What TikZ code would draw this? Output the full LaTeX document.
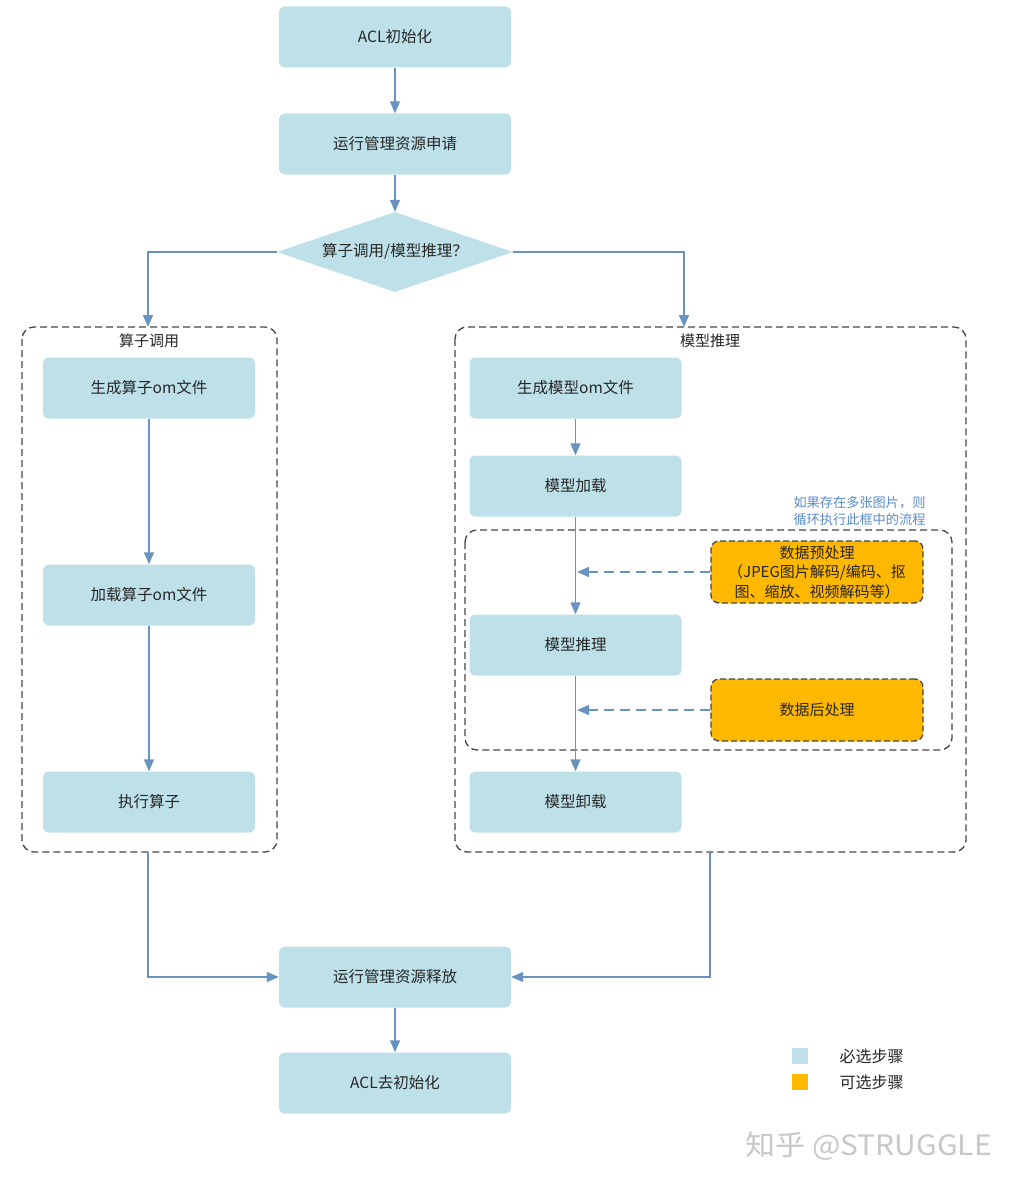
\documentclass[tikz,border=0pt]{standalone}
\usepackage{fontspec}
\setmainfont{Noto Sans CJK SC}
\newfontfamily\cjk{Noto Sans CJK SC}
\usetikzlibrary{arrows.meta,shapes.geometric}
\definecolor{boxblue}{RGB}{190,225,233}
\definecolor{optorange}{RGB}{255,184,0}
\definecolor{arrowblue}{RGB}{104,146,194}
\definecolor{framegray}{RGB}{70,70,70}
\definecolor{notecol}{RGB}{90,140,205}
\tikzset{
  stepbox/.style={fill=boxblue, rounded corners=6pt, minimum width=232pt, minimum height=61pt, inner sep=0pt, font=\cjk\fontsize{15.5}{18}\selectfont, text=black!85},
  smallbox/.style={stepbox, minimum width=212pt},
  optbox/.style={fill=optorange, draw=framegray, line width=1.3pt, dash pattern=on 6pt off 3pt, rounded corners=8pt, minimum width=212pt, minimum height=62pt, inner sep=0pt, align=center, font=\cjk\fontsize{15}{19.5}\selectfont, text=black!85},
  flow/.style={draw=arrowblue, line width=1.4pt, -{Triangle[width=10pt,length=12pt]}},
  flowdash/.style={flow, dash pattern=on 10pt off 6pt},
  group/.style={draw=framegray, line width=1.3pt, dash pattern=on 7pt off 4pt, rounded corners=12pt},
  grouptitle/.style={font=\cjk\fontsize{15}{18}\selectfont, text=black!85},
}
\begin{document}
\begin{tikzpicture}[x=1pt,y=-1pt]
\useasboundingbox (0,0) rectangle (1017,1188);
\fill[white] (0,0) rectangle (1017,1188);

% top nodes
\node[stepbox] (init) at (395,37) {ACL初始化};
\node[stepbox] (alloc) at (395,144) {运行管理资源申请};
\node[diamond, aspect=2.95, fill=boxblue, inner sep=0pt, minimum width=236pt, minimum height=80pt] (dec) at (395,252) {};
\node[font=\cjk\fontsize{15.5}{18}\selectfont, text=black!85] (dectxt) at (395,251) {算子调用/模型推理？};

% groups
\draw[group] (22,327) rectangle (277,852);
\node[grouptitle] (ltitle) at (149,341) {算子调用};
\draw[group] (455,327) rectangle (966,852);
\node[grouptitle] (rtitle) at (710,341) {模型推理};
\coordinate (lgtop) at (148,327);
\coordinate (rgtop) at (684,327);
\coordinate (lgbot) at (148,852);
\coordinate (rgbot) at (710,852);

% left column
\node[smallbox] (genop) at (149,388) {生成算子om文件};
\node[smallbox] (loadop) at (149,595) {加载算子om文件};
\node[smallbox] (runop) at (149,802) {执行算子};

% right column
\node[smallbox] (genmod) at (575.5,388) {生成模型om文件};
\node[smallbox] (loadmod) at (575.5,486) {模型加载};
\node[smallbox] (infer) at (575.5,645) {模型推理};
\node[smallbox] (unload) at (575.5,802) {模型卸载};

% inner loop group
\draw[group] (465,530) rectangle (952,750);
\node[font=\cjk\fontsize{13.2}{17}\selectfont, text=notecol, align=left, anchor=north west] (note) at (790,493) {如果存在多张图片，则\\循环执行此框中的流程};

% optional boxes
\node[optbox] (pre) at (817,572) {数据预处理\\（JPEG图片解码/编码、抠\\图、缩放、视频解码等）};
\node[optbox] (post) at (817,710) {数据后处理};
\coordinate (prejoin) at (577,572);
\coordinate (postjoin) at (577,710);

% bottom nodes
\node[stepbox] (release) at (395,977) {运行管理资源释放};
\node[stepbox] (deinit) at (395,1083) {ACL去初始化};

% connectors
\draw[flow] (init) -- (alloc);
\draw[flow] (alloc) -- (dec);
\draw[flow] (dec.west) -| (lgtop);
\draw[flow] (dec.east) -| (rgtop);
\draw[flow] (genop) -- (loadop);
\draw[flow] (loadop) -- (runop);
\draw[flow] (genmod) -- (loadmod);
\draw[flow] (loadmod) -- (infer);
\draw[flow] (infer) -- (unload);
\draw[flowdash] (pre.west) -- (prejoin);
\draw[flowdash] (post.west) -- (postjoin);
\draw[flow] (lgbot) |- (release.west);
\draw[flow] (rgbot) |- (release.east);
\draw[flow] (release) -- (deinit);

% legend
\node[fill=boxblue, minimum size=16pt, inner sep=0pt] (legA) at (800,1056) {};
\node[fill=optorange, minimum size=16pt, inner sep=0pt] (legB) at (800,1082) {};
\node[anchor=west, font=\cjk\fontsize{16}{18}\selectfont, text=black!85] (legAt) at (836,1056) {必选步骤};
\node[anchor=west, font=\cjk\fontsize{16}{18}\selectfont, text=black!85] (legBt) at (836,1082) {可选步骤};

% watermark
\node[anchor=west, font=\cjk\fontsize{28}{32}\selectfont, text=black!22, xscale=1.07] (wm) at (742,1146) {知乎 @STRUGGLE};
\end{tikzpicture}
\end{document}
